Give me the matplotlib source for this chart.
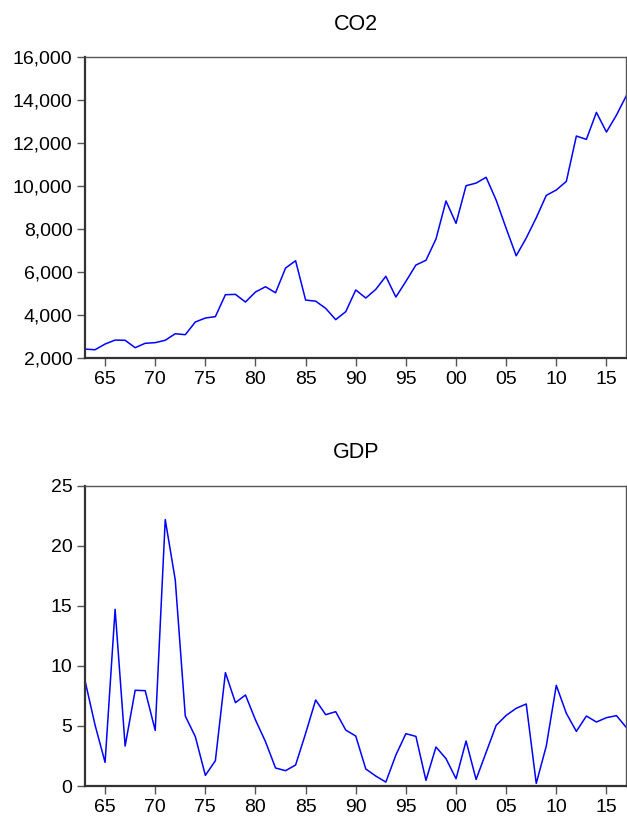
import matplotlib
matplotlib.use("Agg")
from matplotlib import pyplot as plt
from matplotlib.ticker import FuncFormatter

plt.rcParams['font.family'] = ['Liberation Sans', 'DejaVu Sans']

years = list(range(1963, 2018))

co2 = [2430, 2400, 2665, 2850, 2840, 2495, 2700, 2730, 2840, 3145,
       3100, 3690, 3875, 3940, 4960, 4975, 4620, 5085, 5330, 5050,
       6200, 6540, 4710, 4660, 4325, 3800, 4170, 5180, 4805, 5210,
       5815, 4850, 5580, 6340, 6560, 7550, 9320, 8280, 10030, 10150,
       10420, 9360, 8045, 6770, 7595, 8540, 9580, 9830, 10230, 12340,
       12185, 13440, 12525, 13315, 14230]

gdp = [8.77, 5.08, 1.97, 14.71, 3.33, 7.97, 7.94, 4.63, 22.18, 17.15,
       5.83, 4.11, 0.89, 2.11, 9.44, 6.94, 7.58, 5.50, 3.69, 1.50,
       1.28, 1.75, 4.38, 7.16, 5.94, 6.19, 4.66, 4.16, 1.42, 0.83,
       0.33, 2.58, 4.36, 4.13, 0.47, 3.25, 2.28, 0.61, 3.75, 0.55,
       2.80, 5.05, 5.88, 6.47, 6.83, 0.22, 3.33, 8.38, 6.05, 4.55,
       5.83, 5.33, 5.69, 5.86, 4.86]

year_ticks = list(range(1965, 2016, 5))
year_labels = ['%02d' % (y % 100) for y in year_ticks]

fig = plt.figure(figsize=(6.27, 8.17), dpi=100)
ax1 = fig.add_axes([0.1356, 0.5614, 0.8636, 0.3684])
ax2 = fig.add_axes([0.1356, 0.0379, 0.8636, 0.3676])


def style(ax, series, title, ylim, yticks, fmt):
    ax.plot(years, series, color='#0000ff', lw=1.1)
    ax.set_xlim(1963, 2017)
    ax.set_ylim(*ylim)
    ax.set_yticks(yticks)
    ax.yaxis.set_major_formatter(FuncFormatter(fmt))
    ax.set_xticks(year_ticks)
    ax.set_xticklabels(year_labels)
    ax.set_title(title, fontsize=15.5, pad=20)
    for side in ['left', 'bottom']:
        ax.spines[side].set_color('#333333')
        ax.spines[side].set_linewidth(1.6)
    for side in ['top', 'right']:
        ax.spines[side].set_color('#555555')
        ax.spines[side].set_linewidth(1.0)
    ax.tick_params(direction='out', length=6, width=1, color='#555555',
                   labelsize=14, pad=3, top=False, right=False)


style(ax1, co2, 'CO2', (2000, 16000), list(range(2000, 16001, 2000)),
      lambda v, p: '{:,.0f}'.format(v))
style(ax2, gdp, 'GDP', (0, 25), [0, 5, 10, 15, 20, 25],
      lambda v, p: '%d' % v)

fig.savefig('out.png', dpi=100)
